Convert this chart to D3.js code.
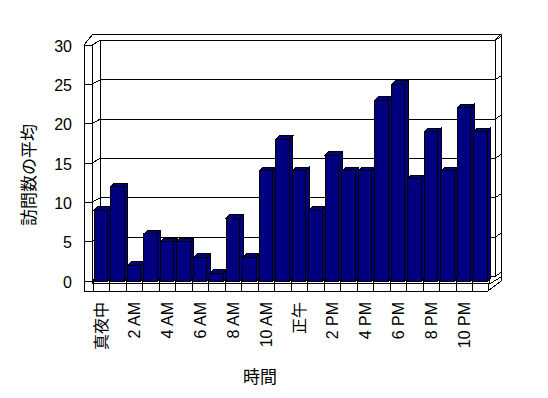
<!DOCTYPE html>
<html><head><meta charset="utf-8">
<script src="https://cdn.jsdelivr.net/npm/d3@7"></script>
<style>
html,body{margin:0;padding:0;background:#fff;}
svg{display:block;}
text{fill:#000;}
</style></head>
<body>
<svg id="chart" width="548" height="398"></svg>
<script>
const categories = ["真夜中","1 AM","2 AM","3 AM","4 AM","5 AM","6 AM","7 AM","8 AM","9 AM","10 AM","11 AM",
  "正午","1 PM","2 PM","3 PM","4 PM","5 PM","6 PM","7 PM","8 PM","9 PM","10 PM","11 PM"];
const visits = [9,12,2,6,5,5,3,1,8,3,14,18,14,9,16,14,14,23,25,13,19,14,22,19];
const yTicks = [0,5,10,15,20,25,30];
const xTickLabels = categories.filter((d,i)=>i%2===0);
const yTitle = "訪問数の平均";
const xTitle = "時間";

const svg = d3.select("#chart");
const g = svg.append("g").attr("shape-rendering","crispEdges");

const x = d3.scaleBand().domain(categories).range([93,489]);
const y = d3.scaleLinear().domain([0,30]).range([281,45]);

const wallL = 84, wallR = 92, backL = 100, backR = 495, outerR = 501;
const bdx = 8, bdy = -4.5;   // back wall offset
const ddx = 3.5, ddy = -3.5; // bar depth
const floorY = 283, bottomY = 291;

function line(x1,y1,x2,y2){
  g.append("line").attr("x1",x1).attr("y1",y1).attr("x2",x2).attr("y2",y2)
   .attr("stroke","#000").attr("stroke-width",1);
}

// outer frame
line(wallL, y(30), wallL+9, 34);
line(wallL+9, 34, outerR, 34);
line(outerR, 34, outerR, 281);
line(outerR, 281, 488, bottomY);
// back wall inner edges
line(backL, y(30)+bdy, backL, y(0)+bdy);
line(backR, y(30)+bdy, backR, y(0)+bdy);
line(backR, y(30)+bdy, outerR, 34);
// gridlines + left wall ticks
yTicks.forEach(v=>{
  const yy = y(v);
  line(wallL, yy, wallR, yy);
  line(wallR, yy, backL, yy+bdy);
  line(backL, yy+bdy, backR, yy+bdy);
  line(backR, yy+bdy, outerR, yy+bdy-4);
});
// left wall front face
line(wallL, y(30), wallL, bottomY);
line(wallR, y(30), wallR, floorY);
// floor
line(wallR, floorY, 491, floorY);
line(wallL, bottomY, 488, bottomY);
line(488, floorY, 488, bottomY);
line(491, floorY, outerR, 277);
// category ticks
categories.forEach((c,i)=>{
  const xx = x(c);
  line(xx, 279, xx, bottomY);
});
line(x.range()[1], 279, x.range()[1], floorY);

// bars
const bw = x.bandwidth()*0.8, off = x.bandwidth()*0.09;
const y0 = 281.5;
categories.forEach((c,i)=>{
  const x0 = x(c)+off, x1 = x0+bw, yt = y(visits[i]);
  const bg = g.append("g");
  bg.append("rect").attr("x",x0).attr("y",yt).attr("width",bw).attr("height",y0-yt)
    .attr("fill","#000080").attr("stroke","#000");
  bg.append("polygon").attr("points",[[x1,yt],[x1+ddx,yt+ddy],[x1+ddx,y0+ddy],[x1,y0]].join(" "))
    .attr("fill","#000080").attr("stroke","#000");
  bg.append("polygon").attr("points",[[x0,yt],[x0+ddx,yt+ddy],[x1+ddx,yt+ddy],[x1,yt]].join(" "))
    .attr("fill","#000080").attr("stroke","#000");
});

// y tick labels
svg.append("g").selectAll("text").data(yTicks).join("text")
  .attr("x",72).attr("y",d=>y(d)+1)
  .attr("text-anchor","end").attr("dominant-baseline","central")
  .style("font-family","'Liberation Sans', Arial, sans-serif").style("font-size","16px")
  .text(d=>d);

// x tick labels
svg.append("g").selectAll("text").data(xTickLabels).join("text")
  .attr("transform",d=>`translate(${x(d)+x.bandwidth()/2},302) rotate(-90)`)
  .attr("text-anchor","end").attr("dominant-baseline","central")
  .style("font-family","'Liberation Sans', 'Noto Sans CJK JP', sans-serif").style("font-size","16px")
  .text(d=>d);

// axis titles
svg.append("text").attr("transform","translate(27,175) rotate(-90)")
  .attr("text-anchor","middle").attr("dominant-baseline","central")
  .style("font-family","'Noto Sans CJK JP', sans-serif").style("font-size","17px")
  .text(yTitle);
svg.append("text").attr("x",260).attr("y",375)
  .attr("text-anchor","middle").attr("dominant-baseline","central")
  .style("font-family","'Noto Sans CJK JP', sans-serif").style("font-size","17px")
  .text(xTitle);
</script>
</body></html>
